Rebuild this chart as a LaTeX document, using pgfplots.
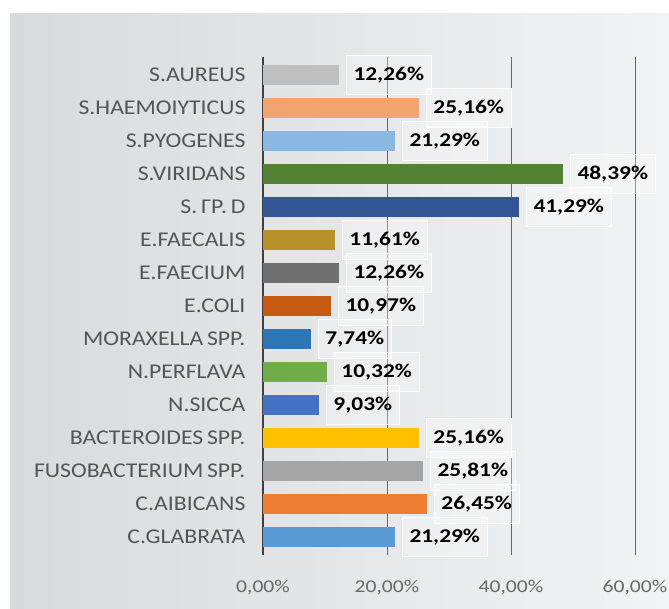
\documentclass[border=0pt]{standalone}
\usepackage{pgfplots}
\pgfplotsset{compat=1.18}
\usepackage{fontspec}
\setmainfont[FakeStretch=1.2]{Carlito}
\newfontfamily\catfont[FakeStretch=1.13, WordSpace=0.7]{Carlito}
\definecolor{bgL}{RGB}{216,218,220}
\definecolor{bgR}{RGB}{242,243,244}
\definecolor{cA}{RGB}{191,191,191}
\definecolor{cB}{RGB}{244,164,112}
\definecolor{cC}{RGB}{139,184,226}
\definecolor{cD}{RGB}{84,130,53}
\definecolor{cE}{RGB}{50,86,148}
\definecolor{cF}{RGB}{184,145,42}
\definecolor{cG}{RGB}{112,112,112}
\definecolor{cH}{RGB}{197,90,17}
\definecolor{cI}{RGB}{46,117,182}
\definecolor{cJ}{RGB}{112,173,71}
\definecolor{cK}{RGB}{68,114,196}
\definecolor{cL}{RGB}{255,192,0}
\definecolor{cM}{RGB}{165,165,165}
\definecolor{cN}{RGB}{237,125,49}
\definecolor{cO}{RGB}{91,155,213}
\definecolor{labgray}{RGB}{85,85,85}
\definecolor{tickgray}{RGB}{105,105,105}
\begin{document}
\begin{tikzpicture}
\path[use as bounding box] (0pt,0pt) rectangle (669pt,608pt);
\clip (0pt,0pt) rectangle (669pt,608pt);
\fill[white] (0pt,0pt) rectangle (669pt,608pt);
\shade[left color=bgL, right color=bgR] (10pt,0pt) rectangle (669pt,594pt);
\begin{axis}[
  at={(263pt,53pt)}, anchor=south west,
  scale only axis, width=372pt, height=498pt,
  xmin=0, xmax=60, ymin=-0.545, ymax=14.545,
  xbar, bar width=20pt, bar shift=0pt,
  axis x line=bottom, axis y line=left,
  axis line style={-},
  separate axis lines,
  x axis line style={draw=none},
  y axis line style={draw=black!75, line width=1.8pt},
  xmajorgrids, grid style={black!60, line width=0.7pt},
  major tick length=0pt,
  xtick={0,20,40,60},
  /pgf/number format/assume math mode=true,
  xticklabel={\pgfmathprintnumber[fixed,fixed zerofill,precision=2,use comma]{\tick}\%},
  xticklabel style={text=tickgray, yshift=-22pt, font=\fontsize{18}{20}\selectfont},
  ytick={0,...,14},
  yticklabels={C.GLABRATA, C.AIBICANS, FUSOBACTERIUM SPP., BACTEROIDES SPP., N.SICCA, N.PERFLAVA, MORAXELLA SPP., E.COLI, E.FAECIUM, E.FAECALIS, S. ГР. D, S.VIRIDANS, S.PYOGENES, S.HAEMOIYTICUS, S.AUREUS},
  yticklabel style={text=labgray, xshift=-14pt, font=\catfont\fontsize{21}{23}\selectfont},
  point meta=x,
  nodes near coords={\pgfmathprintnumber[fixed,fixed zerofill,precision=2,use comma]{\pgfplotspointmeta}\%},
  nodes near coords style={anchor=west, xshift=7pt, draw=white, line width=1pt, fill=white, fill opacity=0.3, text opacity=1, inner xsep=7pt, inner ysep=11pt, text=black, font=\bfseries\fontsize{19.5}{21}\selectfont},
  clip=false,
]
\addplot[fill=cA, draw=none] coordinates {(12.26,14)};
\addplot[fill=cB, draw=none] coordinates {(25.16,13)};
\addplot[fill=cC, draw=none] coordinates {(21.29,12)};
\addplot[fill=cD, draw=none] coordinates {(48.39,11)};
\addplot[fill=cE, draw=none] coordinates {(41.29,10)};
\addplot[fill=cF, draw=none] coordinates {(11.61,9)};
\addplot[fill=cG, draw=none] coordinates {(12.26,8)};
\addplot[fill=cH, draw=none] coordinates {(10.97,7)};
\addplot[fill=cI, draw=none] coordinates {(7.74,6)};
\addplot[fill=cJ, draw=none] coordinates {(10.32,5)};
\addplot[fill=cK, draw=none] coordinates {(9.03,4)};
\addplot[fill=cL, draw=none] coordinates {(25.16,3)};
\addplot[fill=cM, draw=none] coordinates {(25.81,2)};
\addplot[fill=cN, draw=none] coordinates {(26.45,1)};
\addplot[fill=cO, draw=none] coordinates {(21.29,0)};
\end{axis}
\end{tikzpicture}
\end{document}
